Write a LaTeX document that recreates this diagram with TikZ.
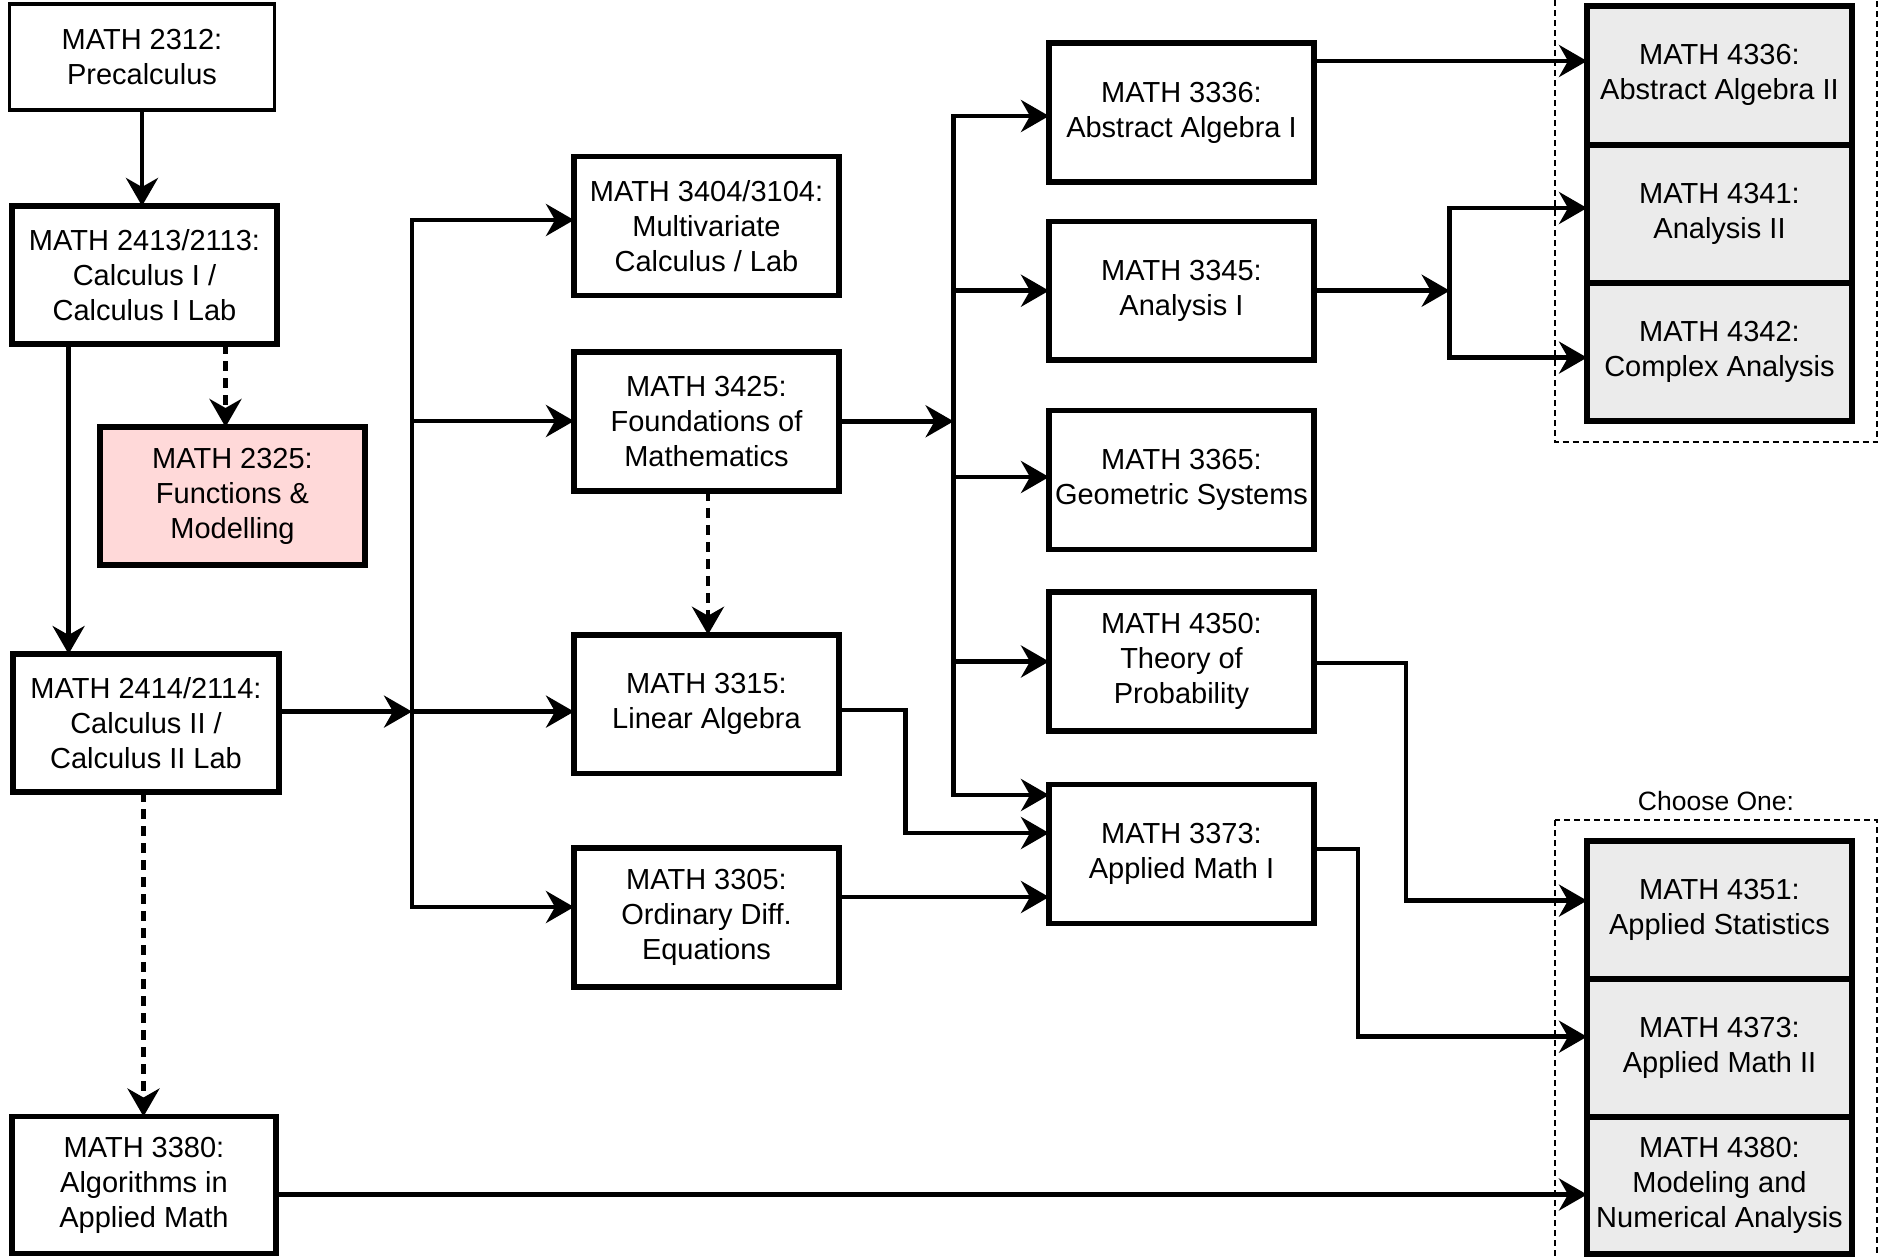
\documentclass[tikz,border=0pt]{standalone}
\usepackage{fontspec}
\setmainfont{Liberation Sans}
\usetikzlibrary{arrows.meta}
\definecolor{pinkfill}{RGB}{255,217,217}
\definecolor{grayfill}{RGB}{235,235,235}
\begin{document}
\begin{tikzpicture}[x=1pt,y=-1pt,
  box/.style={draw, line width=5.5pt, align=center, inner sep=0pt, outer sep=0pt,
    minimum width=265pt, minimum height=139pt,
    font=\fontsize{29}{35}\selectfont},
  thinbox/.style={box, line width=3.5pt},
  pinkbox/.style={box, fill=pinkfill},
  graybox/.style={box, line width=6pt, fill=grayfill, minimum height=138.5pt},
  ln/.style={line width=4.5pt, line cap=rect},
  arr/.style={line width=4.5pt, -{Stealth[length=28pt,width=32pt,inset=9pt]}},
  darr/.style={arr, dash pattern=on 10pt off 7pt},
  grp/.style={draw, line width=2pt, dash pattern=on 6pt off 4pt},
  lbl/.style={font=\fontsize{26.5}{32}\selectfont, inner sep=0pt}
]
\useasboundingbox (0,0) rectangle (1888,1256);

% group frames
\draw[grp] (1554.5,-10) rectangle (1877,442);
\draw[grp] (1554.5,820) rectangle (1877,1270);
\node[lbl] (choose) at (1716,801) {Choose One:};

% left column
\node[thinbox, minimum height=106pt] (pre) at (142,57) {MATH 2312:\\Precalculus};
\node[box, minimum height=138pt] (c1) at (144.5,275) {MATH 2413/2113:\\Calculus I /\\Calculus I Lab};
\node[pinkbox, minimum height=138pt] (f2325) at (232.5,496) {MATH 2325:\\Functions \&\\Modelling};
\node[box, minimum width=266pt, minimum height=138pt] (c2) at (146,723) {MATH 2414/2114:\\Calculus II /\\Calculus II Lab};
\node[box, minimum width=264pt, minimum height=137pt] (a3380) at (144,1185) {MATH 3380:\\Algorithms in\\Applied Math};

% middle column
\node[box] (m3404) at (706.5,226) {MATH 3404/3104:\\Multivariate\\Calculus / Lab};
\node[box] (m3425) at (706.5,421.3) {MATH 3425:\\Foundations of\\Mathematics};
\node[box, minimum height=138.5pt] (m3315) at (706.5,704) {MATH 3315:\\Linear Algebra};
\node[box] (m3305) at (706.5,917.5) {MATH 3305:\\Ordinary Diff.\\Equations};

% right column
\node[box] (r3336) at (1181.5,112.5) {MATH 3336:\\Abstract Algebra I};
\node[box, minimum height=138.5pt] (r3345) at (1181.5,290.7) {MATH 3345:\\Analysis I};
\node[box] (r3365) at (1181.5,480) {MATH 3365:\\Geometric Systems};
\node[box] (r4350) at (1181.5,661.5) {MATH 4350:\\Theory of\\Probability};
\node[box] (r3373) at (1181.5,854) {MATH 3373:\\Applied Math I};

% gray column
\node[graybox] (g4336) at (1719.5,75.25) {MATH 4336:\\Abstract Algebra II};
\node[graybox] (g4341) at (1719.5,213.75) {MATH 4341:\\Analysis II};
\node[graybox] (g4342) at (1719.5,352) {MATH 4342:\\Complex Analysis};
\node[graybox] (g4351) at (1719.5,909.75) {MATH 4351:\\Applied Statistics};
\node[graybox] (g4373) at (1719.5,1048) {MATH 4373:\\Applied Math II};
\node[graybox, minimum height=137pt] (g4380) at (1719.5,1185.5) {MATH 4380:\\Modeling and\\Numerical Analysis};

% coordinates
\coordinate (vx) at (68.6,0);
\coordinate (dx1) at (225.5,0);
\coordinate (dx2) at (143.5,0);
\coordinate (b1t) at (412,220);
\coordinate (b1c) at (412,421);
\coordinate (j1) at (412,711.6);
\coordinate (b1b) at (412,907);
\coordinate (b2t) at (953.6,116);
\coordinate (b2a) at (953.6,290.7);
\coordinate (j2) at (953.6,421.3);
\coordinate (b2c) at (953.6,477);
\coordinate (b2d) at (953.6,661.5);
\coordinate (b2b) at (953.6,795);
\coordinate (k1) at (905.5,710);
\coordinate (k1b) at (905.5,833);
\coordinate (k2) at (0,897);
\coordinate (k3) at (0,61);
\coordinate (k4) at (0,1194.5);
\coordinate (s) at (1449.7,290.7);
\coordinate (st) at (1449.7,208);
\coordinate (sb) at (1449.7,357.6);
\coordinate (p1) at (1406,663);
\coordinate (p2) at (1406,900.6);
\coordinate (q1) at (1358,849);
\coordinate (q2) at (1358,1036.7);

% left connectors
\draw[arr] (pre.south) -- (pre.south |- c1.north);
\draw[arr] (c1.south -| vx) -- (c2.north -| vx);
\draw[darr] (c1.south -| dx1) -- (f2325.north -| dx1);
\draw[darr] (c2.south -| dx2) -- (a3380.north -| dx2);

% bus 1
\draw[arr] (c2.east |- j1) -- (j1);
\draw[ln] (b1t) -- (b1b);
\draw[arr] (b1t) -- (m3404.west |- b1t);
\draw[arr] (b1c) -- (m3425.west |- b1c);
\draw[arr] (j1) -- (m3315.west |- j1);
\draw[arr] (b1b) -- (m3305.west |- b1b);
\draw[darr] (m3425.south -| 708,0) -- (m3315.north -| 708,0);

% bus 2
\draw[arr] (m3425.east) -- (j2);
\draw[ln] (b2t) -- (b2b);
\draw[arr] (b2t) -- (r3336.west |- b2t);
\draw[arr] (b2a) -- (r3345.west |- b2a);
\draw[arr] (b2c) -- (r3365.west |- b2c);
\draw[arr] (b2d) -- (r4350.west |- b2d);
\draw[arr] (b2b) -- (r3373.west |- b2b);
\draw[arr] (m3315.east |- k1) -- (k1) -- (k1b) -- (r3373.west |- k1b);
\draw[arr] (m3305.east |- k2) -- (r3373.west |- k2);

% right connectors
\draw[arr] (r3336.east |- k3) -- (g4336.west |- k3);
\draw[arr] (r3345.east) -- (s);
\draw[ln] (st) -- (sb);
\draw[arr] (st) -- (g4341.west |- st);
\draw[arr] (sb) -- (g4342.west |- sb);
\draw[arr] (r4350.east |- p1) -- (p1) -- (p2) -- (g4351.west |- p2);
\draw[arr] (r3373.east |- q1) -- (q1) -- (q2) -- (g4373.west |- q2);
\draw[arr] (a3380.east |- k4) -- (g4380.west |- k4);
\end{tikzpicture}
\end{document}
